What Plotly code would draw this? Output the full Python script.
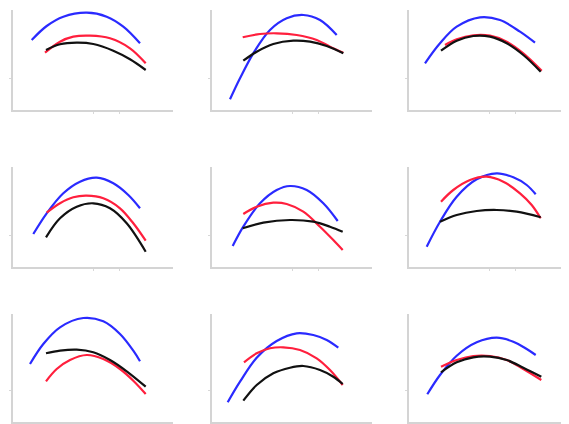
import plotly.graph_objects as go

# ---- data (per panel: blue, red, black curves) ----
p1_blue_x = [1.87, 3.37, 5.03, 7.37, 9.37, 11.03, 12.7]
p1_blue_y = [7.0, 8.4, 9.33, 9.73, 9.33, 8.33, 6.67]
p1_red_x = [3.2, 4.7, 6.03, 7.7, 9.7, 11.7, 13.27]
p1_red_y = [5.73, 6.83, 7.33, 7.43, 7.17, 6.17, 4.67]
p1_black_x = [3.3, 4.7, 6.37, 8.03, 10.03, 11.7, 13.27]
p1_black_y = [6.0, 6.57, 6.73, 6.6, 5.93, 5.07, 4.0]

p2_blue_x = [1.8, 2.8, 4.13, 5.8, 7.47, 9.13, 10.8, 12.47]
p2_blue_y = [1.07, 3.17, 5.67, 8.0, 9.17, 9.5, 9.0, 7.5]
p2_red_x = [3.07, 4.8, 6.47, 8.47, 10.47, 11.8, 13.13]
p2_red_y = [7.27, 7.6, 7.67, 7.5, 7.0, 6.33, 5.73]
p2_black_x = [3.13, 4.47, 6.13, 8.13, 9.8, 11.47, 13.13]
p2_black_y = [4.93, 5.83, 6.6, 6.93, 6.83, 6.4, 5.67]

p3_blue_x = [1.6, 3.1, 4.77, 7.1, 9.1, 11.1, 12.6]
p3_blue_y = [4.67, 6.67, 8.33, 9.27, 9.0, 7.83, 6.73]
p3_red_x = [3.6, 4.77, 6.43, 8.1, 9.77, 11.43, 13.27]
p3_red_y = [6.5, 7.07, 7.47, 7.43, 6.83, 5.67, 3.93]
p3_black_x = [3.2, 4.77, 6.43, 8.1, 9.77, 11.43, 13.17]
p3_black_y = [5.93, 6.93, 7.4, 7.33, 6.67, 5.5, 3.83]

p4_blue_x = [2.03, 3.37, 5.03, 6.7, 8.37, 10.03, 11.53, 12.7]
p4_blue_y = [3.3, 5.37, 7.37, 8.53, 8.93, 8.37, 7.2, 5.87]
p4_red_x = [3.37, 4.7, 6.03, 7.37, 9.03, 10.7, 12.03, 13.27]
p4_red_y = [5.43, 6.37, 6.97, 7.13, 6.87, 5.87, 4.37, 2.63]
p4_black_x = [3.3, 4.7, 6.37, 8.03, 9.7, 11.37, 13.27]
p4_black_y = [2.97, 4.87, 6.03, 6.37, 5.87, 4.37, 1.53]

p5_blue_x = [2.07, 3.13, 4.8, 6.47, 7.8, 9.47, 11.13, 12.57]
p5_blue_y = [2.1, 4.03, 6.37, 7.7, 8.1, 7.7, 6.37, 4.6]
p5_red_x = [3.13, 4.47, 6.13, 7.47, 9.13, 10.8, 12.13, 13.07]
p5_red_y = [5.3, 6.03, 6.43, 6.3, 5.53, 4.03, 2.7, 1.7]
p5_black_x = [3.07, 5.13, 7.8, 10.13, 11.8, 13.07]
p5_black_y = [3.87, 4.43, 4.7, 4.53, 4.03, 3.53]

p6_blue_x = [1.77, 3.1, 4.77, 6.77, 8.77, 10.43, 11.77, 12.67]
p6_blue_y = [2.03, 4.53, 7.03, 8.77, 9.37, 8.97, 8.2, 7.27]
p6_red_x = [3.2, 4.43, 6.1, 7.77, 9.43, 11.1, 12.27, 13.17]
p6_red_y = [6.53, 7.7, 8.7, 9.03, 8.53, 7.37, 6.2, 4.87]
p6_black_x = [3.1, 4.77, 6.77, 8.77, 10.77, 13.17]
p6_black_y = [4.53, 5.2, 5.6, 5.7, 5.53, 4.97]

p7_blue_x = [1.7, 3.03, 4.7, 7.03, 9.03, 10.7, 12.03, 12.7]
p7_blue_y = [5.8, 7.8, 9.47, 10.4, 10.07, 8.8, 7.13, 6.07]
p7_red_x = [3.3, 4.37, 5.7, 7.37, 9.03, 10.7, 12.03, 13.27]
p7_red_y = [4.07, 5.3, 6.2, 6.7, 6.3, 5.3, 4.13, 2.8]
p7_black_x = [3.3, 4.7, 6.37, 8.03, 9.7, 11.37, 13.27]
p7_black_y = [6.87, 7.13, 7.23, 6.97, 6.2, 5.07, 3.53]

p8_blue_x = [1.57, 2.8, 4.47, 6.47, 8.47, 10.13, 11.47, 12.63]
p8_blue_y = [1.97, 4.03, 6.43, 8.1, 8.87, 8.7, 8.2, 7.43]
p8_red_x = [3.2, 4.47, 5.8, 7.13, 8.8, 10.47, 11.8, 13.07]
p8_red_y = [5.97, 6.87, 7.37, 7.47, 7.2, 6.37, 5.2, 3.7]
p8_black_x = [3.13, 4.47, 6.13, 7.8, 9.13, 10.8, 12.13, 13.07]
p8_black_y = [2.13, 3.7, 4.87, 5.43, 5.6, 5.2, 4.53, 3.8]

p9_blue_x = [1.83, 3.1, 4.77, 6.77, 8.77, 10.43, 11.77, 12.67]
p9_blue_y = [2.77, 4.7, 6.63, 7.97, 8.43, 8.03, 7.3, 6.7]
p9_red_x = [3.2, 4.77, 6.43, 8.1, 9.77, 11.43, 13.23]
p9_red_y = [5.53, 6.2, 6.6, 6.6, 6.2, 5.3, 4.2]
p9_black_x = [3.2, 4.77, 6.43, 8.1, 9.77, 11.43, 13.23]
p9_black_y = [4.97, 5.97, 6.47, 6.53, 6.2, 5.43, 4.53]

panels = [
    (p1_blue_x, p1_blue_y, p1_red_x, p1_red_y, p1_black_x, p1_black_y),
    (p2_blue_x, p2_blue_y, p2_red_x, p2_red_y, p2_black_x, p2_black_y),
    (p3_blue_x, p3_blue_y, p3_red_x, p3_red_y, p3_black_x, p3_black_y),
    (p4_blue_x, p4_blue_y, p4_red_x, p4_red_y, p4_black_x, p4_black_y),
    (p5_blue_x, p5_blue_y, p5_red_x, p5_red_y, p5_black_x, p5_black_y),
    (p6_blue_x, p6_blue_y, p6_red_x, p6_red_y, p6_black_x, p6_black_y),
    (p7_blue_x, p7_blue_y, p7_red_x, p7_red_y, p7_black_x, p7_black_y),
    (p8_blue_x, p8_blue_y, p8_red_x, p8_red_y, p8_black_x, p8_black_y),
    (p9_blue_x, p9_blue_y, p9_red_x, p9_red_y, p9_black_x, p9_black_y),
]

# ---- layout geometry (page pixels; page body has an 8px margin) ----
OFF = 8
W, H = 569 - OFF, 424 - OFF
col_left = [13, 212, 409]
row_bottom = [110, 267, 422]
row_top = [10, 167, 314]
panel_w = 160

COLORS = ["#2a2aff", "#ff1f3d", "#111111"]

fig = go.Figure()
layout = dict(
    width=W, height=H,
    margin=dict(l=0, r=0, t=0, b=0),
    paper_bgcolor="white", plot_bgcolor="white",
    showlegend=False,
)

for i, pdata in enumerate(panels):
    r, c = divmod(i, 3)
    n = i + 1
    xa = "x" if n == 1 else f"x{n}"
    ya = "y" if n == 1 else f"y{n}"
    for k in range(3):
        fig.add_trace(go.Scatter(
            x=pdata[2 * k], y=pdata[2 * k + 1], mode="lines",
            line=dict(color=COLORS[k], width=2.2, shape="spline", smoothing=1.0),
            xaxis=xa, yaxis=ya, hoverinfo="skip",
        ))
    x0 = (col_left[c] - OFF) / W
    x1 = min(1.0, (col_left[c] - OFF + panel_w) / W)
    y0 = max(0.0, 1 - (row_bottom[r] - OFF) / H)
    y1 = 1 - (row_top[r] - OFF) / H
    ytop = (row_bottom[r] - row_top[r]) / 10.0
    key_x = "xaxis" if n == 1 else f"xaxis{n}"
    key_y = "yaxis" if n == 1 else f"yaxis{n}"
    layout[key_x] = dict(
        domain=[x0, x1], range=[0, 16], anchor=ya,
        showgrid=False, zeroline=False, showline=True,
        linecolor="#d4d4d4", linewidth=1.5,
        tickvals=[8.0, 10.6], ticks="outside", ticklen=2,
        tickcolor="#d8d8d8", showticklabels=False,
    )
    layout[key_y] = dict(
        domain=[y0, y1], range=[0, ytop], anchor=xa,
        showgrid=False, zeroline=False, showline=True,
        linecolor="#d4d4d4", linewidth=1.5,
        tickvals=[3.2], ticks="outside", ticklen=2,
        tickcolor="#d8d8d8", showticklabels=False,
    )

fig.update_layout(**layout)
fig.write_html("out.html")
